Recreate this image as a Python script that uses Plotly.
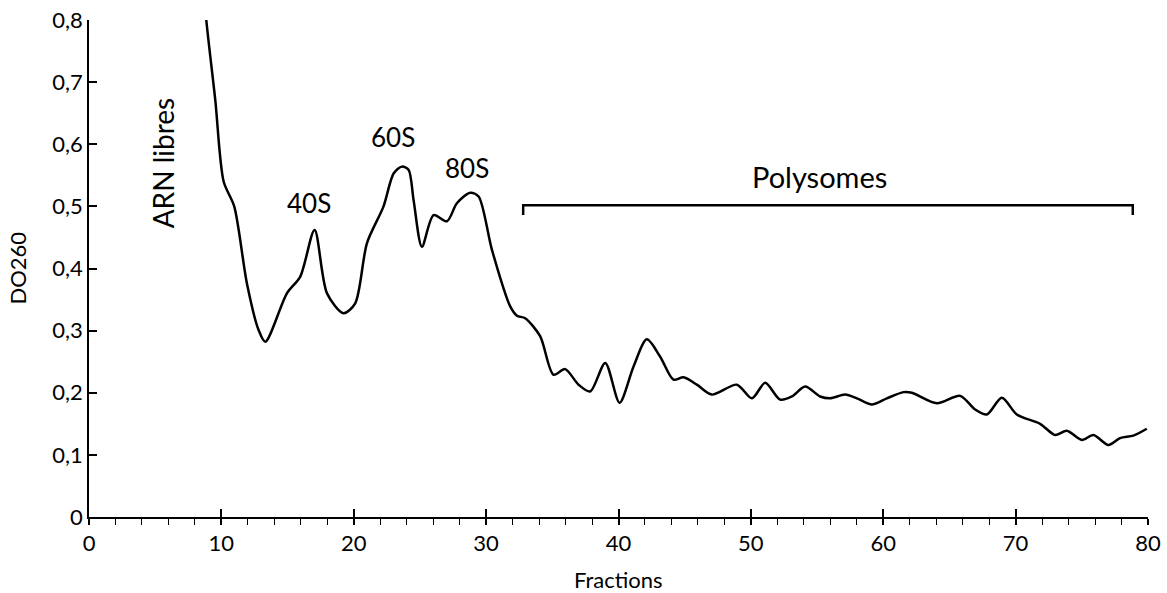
import plotly.graph_objects as go

# absorbance profile
fractions = [8.6, 8.86, 9.54, 10.17, 10.97, 11.93, 12.81, 13.32, 14.95, 15.96, 17.04, 17.98,
             19.23, 20.11, 21.0, 22.25, 23.01, 23.64, 24.14, 24.52, 25.15, 26.03, 27.04,
             27.79, 28.8, 29.43, 30.44, 31.82, 32.33, 32.95, 34.08, 35.09, 35.97, 36.98,
             37.86, 39.0, 40.08, 41.13, 42.14, 43.15, 44.15, 44.91, 45.92, 47.05, 48.94,
             50.08, 51.08, 52.21, 53.1, 54.1, 55.23, 55.99, 57.12, 58.01, 59.14, 60.27,
             61.53, 62.16, 64.05, 65.81, 66.94, 67.82, 68.96, 70.09, 71.85, 72.98, 73.87,
             75.0, 75.88, 77.01, 77.89, 78.9, 79.91]
do260 = [0.87, 0.80, 0.671, 0.540, 0.500, 0.376, 0.301, 0.282, 0.360, 0.387, 0.462, 0.360,
         0.328, 0.344, 0.441, 0.500, 0.553, 0.564, 0.559, 0.510, 0.435, 0.486, 0.476,
         0.505, 0.522, 0.516, 0.430, 0.339, 0.324, 0.320, 0.291, 0.229, 0.238, 0.213,
         0.202, 0.248, 0.184, 0.242, 0.286, 0.258, 0.221, 0.225, 0.213, 0.197, 0.213,
         0.191, 0.216, 0.189, 0.194, 0.210, 0.194, 0.191, 0.197, 0.191, 0.181, 0.191,
         0.201, 0.200, 0.183, 0.195, 0.173, 0.165, 0.192, 0.165, 0.150, 0.132, 0.139,
         0.124, 0.132, 0.116, 0.127, 0.131, 0.142]

peak_labels = ["ARN libres", "40S", "60S", "80S", "Polysomes"]
peak_x = [5.55, 16.6, 22.95, 28.55, 55.2]
peak_y = [0.570, 0.506, 0.611, 0.562, 0.548]
label_size = [28, 26, 26, 26, 29]

# polysome bracket
poly_start, poly_end = 32.8, 78.85
poly_top, poly_foot = 0.502, 0.486

FONT = "Lato"
W, H = 1167, 593
ML, MR, MT, MB = 89, 19, 20, 76

fig = go.Figure()
fig.add_trace(go.Scatter(
    x=fractions, y=do260, mode="lines",
    line=dict(color="black", width=2.5, shape="spline", smoothing=0.8),
    showlegend=False, hoverinfo="skip",
))
# invisible trace so the second x axis (upper half of the crossing ticks) is drawn
fig.add_trace(go.Scatter(x=[0, 80], y=[0, 0], xaxis="x2", mode="lines",
                         line=dict(width=0), showlegend=False, hoverinfo="skip"))

for txt, px_, py_, sz in zip(peak_labels, peak_x, peak_y, label_size):
    fig.add_annotation(x=px_, y=py_, text=txt, showarrow=False,
                       textangle=-90 if txt == "ARN libres" else 0,
                       font=dict(family=FONT, size=sz, color="black"))

fig.add_shape(type="path", xref="x", yref="y",
              path=f"M {poly_start} {poly_foot} L {poly_start} {poly_top} "
                   f"L {poly_end} {poly_top} L {poly_end} {poly_foot}",
              line=dict(color="black", width=2.5))

# axis titles placed by hand (standoff is ignored without automargin)
pw, ph = W - ML - MR, H - MT - MB
fig.add_annotation(xref="paper", yref="paper", x=(17 - ML) / pw, y=0.5, text="DO260",
                   xanchor="center", yanchor="middle",
                   textangle=-90, showarrow=False, font=dict(family=FONT, size=22, color="black"))
fig.add_annotation(xref="paper", yref="paper", x=0.5, y=-(579 - (H - MB)) / ph, text="Fractions",
                   xanchor="center", yanchor="middle",
                   showarrow=False, font=dict(family=FONT, size=22, color="black"))

fig.update_layout(
    width=W, height=H,
    margin=dict(l=ML, r=MR, t=MT, b=MB),
    paper_bgcolor="white", plot_bgcolor="white",
    font=dict(family=FONT, color="black"),
    xaxis=dict(range=[0, 80], dtick=10, showgrid=False, zeroline=False, automargin=False,
               showline=True, linecolor="black", linewidth=1.5,
               ticks="outside", ticklen=6, tickwidth=1.5, tickcolor="black",
               minor=dict(dtick=2, ticks="outside", ticklen=6, tickwidth=1.2, tickcolor="black"),
               tickfont=dict(size=22), ticklabeloverflow="allow"),
    xaxis2=dict(range=[0, 80], dtick=10, overlaying="x", side="bottom", automargin=False,
                showgrid=False, zeroline=False, showline=False,
                ticks="inside", ticklen=8, tickwidth=1.5, tickcolor="black",
                showticklabels=False),
    yaxis=dict(range=[0, 0.8], dtick=0.1, showgrid=False, zeroline=False, automargin=False,
               showline=True, linecolor="black", linewidth=1.5,
               ticks="inside", ticklen=8, tickwidth=1.5, tickcolor="black",
               tickfont=dict(size=22), ticklabeloverflow="allow"),
    separators=", ",
)

# drop the default body margin so the figure fills the window exactly
fig.write_html("out.html", config={"displayModeBar": False},
               post_script="document.body.style.margin = '0';")
